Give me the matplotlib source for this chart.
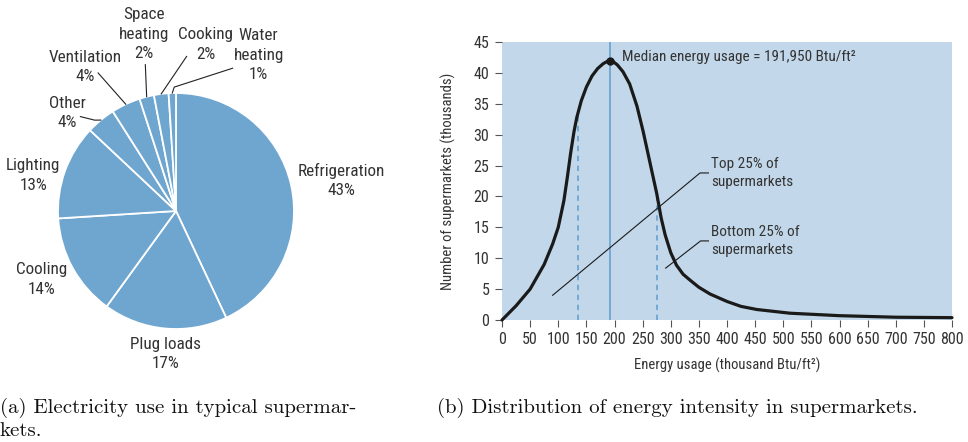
import numpy as np
import matplotlib.pyplot as plt

plt.rcParams['font.family'] = ['Roboto Condensed', 'DejaVu Sans']

# electricity end uses (percent), clockwise from the top
uses = ['Refrigeration', 'Plug loads', 'Cooling', 'Lighting', 'Other',
        'Ventilation', 'Space\nheating', 'Cooking', 'Water\nheating']
shares = [43, 17, 14, 13, 4, 4, 2, 2, 1]

# supermarket count (thousands) vs energy intensity (thousand Btu/ft2)
energy = [0, 25, 50, 75, 90, 100, 110, 116, 122, 128, 133, 141, 150, 160, 170,
          180, 187, 192, 198, 205, 215, 227, 240, 251, 263, 275, 283, 290, 300,
          310, 322, 335, 350, 370, 400, 425, 453, 512, 600, 700, 800]
count = [0, 2.3, 5.0, 9.0, 12.3, 15.0, 19.3, 23.0, 27.0, 30.5, 32.8, 35.5, 37.7,
         39.5, 40.7, 41.5, 41.85, 42.0, 41.8, 41.3, 40.2, 38.2, 34.6, 30.5, 25.5,
         20.5, 16.5, 13.8, 10.9, 8.9, 7.4, 6.4, 5.3, 4.2, 3.0, 2.2, 1.7, 1.1,
         0.7, 0.45, 0.38]
median = 191.95
q1, q3 = 135, 276

fig = plt.figure(figsize=(9.68, 4.42), dpi=100)
W, H = 968, 442
txt = '#333333'
blue = '#6fa6d0'

# ---- (a) pie ----
ax1 = fig.add_axes([58 / W, (H - 329) / H, 236 / W, 236 / H])
wedges, _ = ax1.pie(shares, startangle=90, counterclock=False, colors=[blue],
                    wedgeprops=dict(edgecolor='white', linewidth=1.3))
ax1.set_xlim(-1, 1)
ax1.set_ylim(-1, 1)
ax1.set_aspect('equal')

label_pos = [(1.40, 0.26), (-0.09, -1.21), (-1.14, -0.58), (-1.21, 0.30),
             (-0.92, 0.83), (-0.77, 1.22), (-0.27, 1.50), (0.25, 1.41),
             (0.70, 1.32)]
for name, s, (lx, ly) in zip(uses, shares, label_pos):
    ax1.text(lx, ly, f'{name}\n{s}%', ha='center', va='center', fontsize=12.3,
             color=txt, linespacing=1.38)

# leader lines for the small slices
leaders = {4: [(-0.81, 0.80), (-0.69, 0.77)],
           5: [(-0.66, 1.17)],
           6: [(-0.26, 1.24)],
           7: [(0.09, 1.31)],
           8: [(0.48, 1.21), (-0.015, 1.05)]}
for i, pts in leaders.items():
    w = wedges[i]
    a = np.deg2rad((w.theta1 + w.theta2) / 2)
    end = (np.cos(a), np.sin(a))
    xs = [p[0] for p in pts] + [end[0]]
    ys = [p[1] for p in pts] + [end[1]]
    ax1.plot(xs, ys, color='#222222', lw=0.8, clip_on=False)

# ---- (b) distribution ----
ax2 = fig.add_axes([502 / W, (H - 320) / H, 450 / W, 278 / H])
ax2.set_facecolor('#c2d8ea')
ax2.set_xlim(0, 800)
ax2.set_ylim(0, 45)
for sp in ax2.spines.values():
    sp.set_visible(False)
ax2.set_xticks(np.arange(0, 801, 50))
ax2.set_yticks(np.arange(0, 46, 5))
ax2.tick_params(colors='#555555', labelcolor=txt, labelsize=11.5, length=5,
                width=0.8, pad=4)

ax2.axvline(median, color=blue, lw=1.3)
ax2.plot([q1, q1], [0, np.interp(q1, energy, count)], color=blue, lw=1.3,
         ls=(0, (3, 2.5)))
ax2.plot([q3, q3], [0, np.interp(q3, energy, count)], color=blue, lw=1.3,
         ls=(0, (3, 2.5)))
ax2.plot(energy, count, color='#1a1a1a', lw=2.3, solid_capstyle='round',
         solid_joinstyle='round', clip_on=False)
ax2.plot([median], [np.interp(median, energy, count)], 'o', color='#1a1a1a', ms=5)

ax2.text(213, 42.6, 'Median energy usage = 191,950 Btu/ft²', fontsize=11,
         color=txt, va='center')

ax2.plot([90, 352, 367], [4.0, 23.8, 23.8], color='#1a1a1a', lw=0.8)
ax2.text(372, 23.8, 'Top 25% of\nsupermarkets', fontsize=11, color=txt,
         va='center', ha='left', linespacing=1.4)
ax2.plot([291, 353, 367], [8.4, 12.8, 12.8], color='#1a1a1a', lw=0.8)
ax2.text(372, 12.8, 'Bottom 25% of\nsupermarkets', fontsize=11, color=txt,
         va='center', ha='left', linespacing=1.4)

ax2.set_xlabel('Energy usage (thousand Btu/ft²)', fontsize=10.5, color=txt,
               labelpad=7)
ax2.set_ylabel('Number of supermarkets (thousands)', fontsize=10.5, color=txt,
               labelpad=13)

# captions
cap = dict(family='cmr10', fontsize=15, va='center', color='#111111')
fig.text(0 / W, 1 - 408 / H, '(a) Electricity use in typical supermar-', **cap)
fig.text(0 / W, 1 - 431 / H, 'kets.', **cap)
fig.text(437 / W, 1 - 408 / H,
         '(b) Distribution of energy intensity in supermarkets.', **cap)

fig.savefig('out.png', dpi=100)
